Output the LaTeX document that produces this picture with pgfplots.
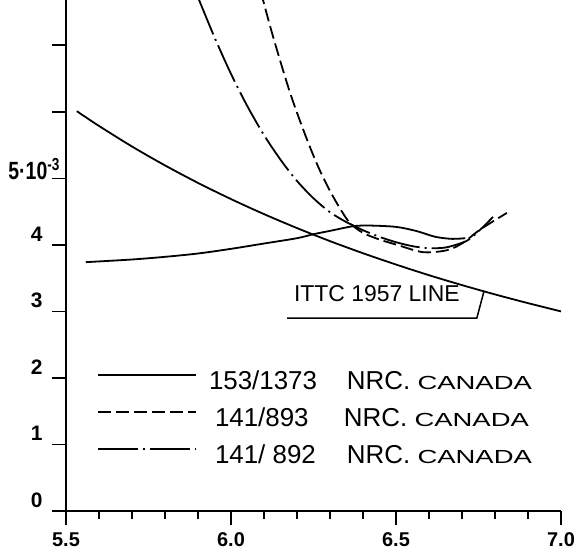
\documentclass[border=0pt]{standalone}
\usepackage{fontspec}
\setmainfont{Liberation Sans}
\usepackage{graphicx}
\usepackage{pgfplots}
\pgfplotsset{compat=1.18}

% Friction coefficient (x 10^-3) against log10 of Reynolds number
\pgfplotstableread{
x      y
5.533  6.009
5.55   5.951
5.6    5.787
5.7    5.478
5.8    5.194
5.9    4.931
6.0    4.688
6.1    4.462
6.2    4.252
6.3    4.056
6.4    3.874
6.5    3.704
6.6    3.544
6.7    3.395
6.8    3.255
6.9    3.124
7.0    3.000
}\ittc

\pgfplotstableread{
x      y
5.56   3.74
5.70   3.78
5.80   3.82
5.90   3.87
6.00   3.94
6.10   4.02
6.20   4.10
6.25   4.16
6.30   4.21
6.37   4.28
6.42   4.29
6.50   4.27
6.56   4.21
6.62   4.12
6.67   4.09
6.71   4.10
}\modelA

\pgfplotstableread{
x      y
6.09   7.81
6.12   7.26
6.15   6.75
6.18   6.27
6.21   5.85
6.24   5.46
6.27   5.11
6.30   4.81
6.33   4.55
6.36   4.33
6.40   4.18
6.45   4.08
6.503  4.00
6.582  3.89
6.655  3.92
6.703  4.03
6.755  4.23
6.836  4.48
}\modelB

\pgfplotstableread{
x      y
5.90   7.72
5.95   7.12
6.00   6.57
6.05   6.08
6.10   5.65
6.15   5.28
6.20   4.96
6.25   4.70
6.30   4.49
6.35   4.34
6.367  4.30
6.40   4.22
6.45   4.12
6.50   4.04
6.55   3.98
6.60   3.95
6.65   3.96
6.70   4.03
6.724  4.09
6.76   4.25
6.794  4.42
}\modelC

\begin{document}
\begin{tikzpicture}
\useasboundingbox (-66bp,-40bp) rectangle (510bp,511bp);
\begin{axis}[
  scale only axis,
  width=495bp, height=511bp,
  xmin=5.5, xmax=7.0, ymin=0, ymax=7.68,
  clip mode=individual,
  axis lines=left,
  axis line style={-, line width=2bp},
  tick align=outside,
  major tick length=14bp, minor tick length=8bp,
  every tick/.style={black, line width=1.5bp},
  xtick={5.5,6.0,6.5,7.0},
  xticklabels={5.5,6.0,6.5,7.0},
  minor xtick={5.6,5.7,5.8,5.9,6.1,6.2,6.3,6.4,6.6,6.7,6.8,6.9},
  ytick={0,1,2,3,4,5,6,7},
  yticklabels={0,1,2,3,4,,,},
  xticklabel style={font=\fontsize{20}{22}\selectfont\bfseries, yshift=-4bp},
  yticklabel style={font=\fontsize{21}{23}\selectfont\bfseries, yshift=11bp, xshift=-6bp},
  legend style={at={(axis cs:5.594,2.12)}, anchor=north west, draw=none, fill=none,
    inner sep=0pt, column sep=12bp, row sep=14bp,
    font=\fontsize{26}{28}\selectfont,
    nodes={inner sep=0pt, text height=19bp, text depth=4bp}},
  legend cell align=left,
  legend image code/.code={\draw[#1] (0bp,7bp) -- (98bp,7bp);},
]
\addplot[black, line width=1.8bp, smooth, forget plot] table {\ittc};
\addplot[black, line width=1.8bp, smooth] table {\modelA};
\addlegendentry{\makebox[138bp][l]{153/1373}NRC.~\scalebox{1.45}[1]{\fontsize{19}{21}\selectfont CANADA}}
\addplot[black, line width=1.8bp, smooth, dash pattern=on 13bp off 5bp] table {\modelB};
\addlegendentry{\hspace{6bp}\makebox[129bp][l]{141/893}NRC.~\scalebox{1.45}[1]{\fontsize{19}{21}\selectfont CANADA}}
\addplot[black, line width=1.8bp, smooth, dash pattern=on 40bp off 5bp on 2bp off 5bp] table {\modelC};
\addlegendentry{\hspace{6bp}\makebox[132bp][l]{141/ 892}NRC.~\scalebox{1.45}[1]{\fontsize{19}{21}\selectfont CANADA}}
% scale factor written beside the tick at 5
\node[anchor=base east, inner sep=0pt, xshift=-6bp, yshift=-1bp,
      font=\fontsize{25}{27}\selectfont\bfseries]
  at (axis cs:5.5,5) {\scalebox{0.78}[1]{5·10\textsuperscript{-3}}};
\node[font=\fontsize{23}{25}\selectfont] at (axis cs:6.442,3.27) {ITTC 1957 LINE};
\draw[line width=1.5bp] (axis cs:6.170,2.90) -- (axis cs:6.745,2.90) -- (axis cs:6.767,3.31);
\end{axis}
\end{tikzpicture}
\end{document}
